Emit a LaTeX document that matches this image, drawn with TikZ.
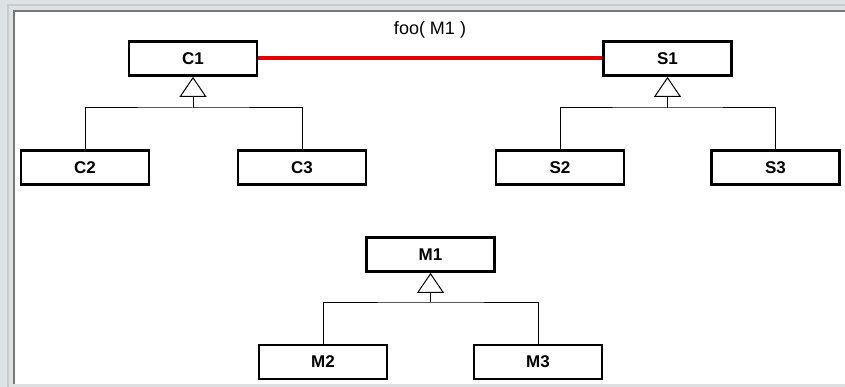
\documentclass[tikz,border=0pt]{standalone}
\usepackage{fontspec}
\setmainfont{Liberation Sans}
\usetikzlibrary{arrows.meta}
\definecolor{bgcol}{HTML}{DDE2E5}
\definecolor{lightline}{HTML}{C9CBCD}
\definecolor{darkline}{HTML}{787878}
\definecolor{bottomcol}{HTML}{DEDFE0}
\definecolor{assoc}{HTML}{E00000}
\tikzset{
  classbox/.style={draw=black, line width=2.8pt, fill=white, minimum width=128pt, minimum height=34pt, inner sep=0pt, font=\fontsize{17}{19}\selectfont\bfseries},
  inherit/.style={line width=1pt, -{Triangle[open, length=20pt, width=27pt]}},
  branch/.style={line width=1pt},
  assocline/.style={draw=assoc, line width=4pt}
}
\begin{document}
\begin{tikzpicture}[x=1pt, y=-1pt]
\useasboundingbox (0,0) rectangle (845,387);
% window frame
\fill[bgcol] (0,0) rectangle (845,387);
\fill[lightline] (7,4) rectangle (845,387);
\fill[bgcol] (9,6) rectangle (845,387);
\fill[darkline] (12.5,10) rectangle (845,384);
\fill[white] (15,12.5) rectangle (845,384);
\fill[bottomcol] (9,384) rectangle (845,387);

% classes
\node[classbox] (c1) at (193,58.5) {C1};
\node[classbox] (c2) at (85,167.5) {C2};
\node[classbox] (c3) at (302,167.5) {C3};
\node[classbox] (s1) at (667.5,58.5) {S1};
\node[classbox] (s2) at (560,167.5) {S2};
\node[classbox] (s3) at (775.5,167.5) {S3};
\node[classbox] (m1) at (430.5,254.5) {M1};
\node[classbox] (m2) at (323,362) {M2};
\node[classbox] (m3) at (538,362) {M3};

% association
\draw[assocline] (c1.east) -- (s1.west);
\node[font=\fontsize{18}{20}\selectfont] (foo) at (430,30) {foo( M1 )};

% inheritance
\coordinate (cb) at (193,108);
\coordinate (sb) at (667.5,108);
\coordinate (mb) at (430.5,302);
\draw[branch] (c2.north) |- (cb) -| (c3.north);
\draw[inherit] (cb) -- (c1.south);
\draw[branch] (s2.north) |- (sb) -| (s3.north);
\draw[inherit] (sb) -- (s1.south);
\draw[branch] (m2.north) |- (mb) -| (m3.north);
\draw[inherit] (mb) -- (m1.south);
\end{tikzpicture}
\end{document}
